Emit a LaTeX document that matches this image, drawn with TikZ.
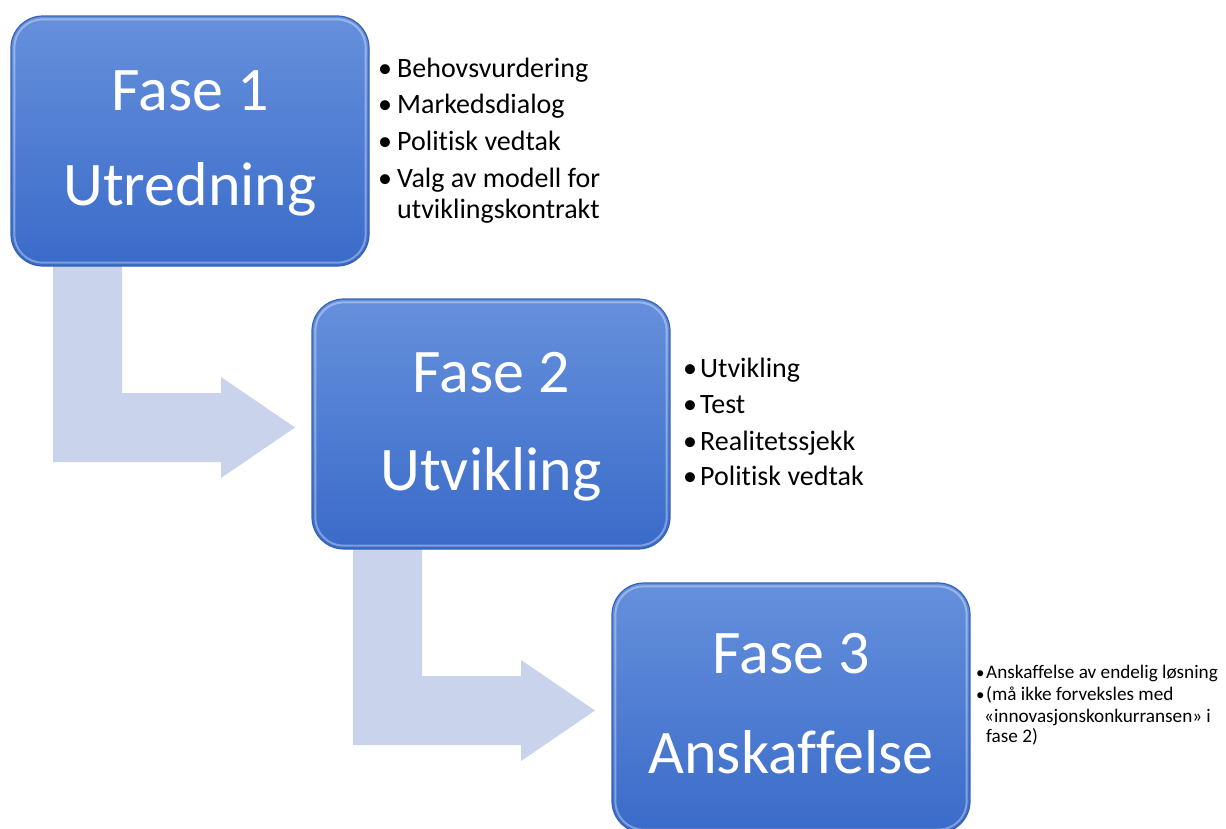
\documentclass[tikz,border=0pt]{standalone}
\usepackage{fontspec}
\setmainfont{Carlito}[Ligatures=NoCommon]
\usetikzlibrary{calc}
\definecolor{arrowfill}{HTML}{C9D3EC}
\definecolor{boxtop}{HTML}{6690DC}
\definecolor{boxbot}{HTML}{3A6BC9}
\definecolor{boxedge}{HTML}{3662B5}
\tikzset{
  phasebox/.style={rectangle, rounded corners=32pt, top color=boxtop, bottom color=boxbot,
    draw=boxedge, line width=1.2pt, minimum width=358pt, minimum height=250pt, inner sep=0pt},
  bevel/.style={draw=white, draw opacity=0.35, line width=2pt, rounded corners=28pt},
  phasetitle/.style={text=white, font=\fontsize{62}{62}\selectfont, anchor=base, inner sep=0pt},
  bigitem/.style={font=\fontsize{28}{32}\selectfont, anchor=base west, inner sep=0pt, text=black},
  smallitem/.style={font=\fontsize{19.2}{21}\selectfont, anchor=base west, inner sep=0pt, text=black},
  smallbullet/.style={font=\fontsize{17}{21}\selectfont, anchor=base west, inner sep=0pt, text=black},
  bentarrow/.style={fill=arrowfill, draw=none}
}
\begin{document}
\begin{tikzpicture}[x=1pt,y=-1pt]
\useasboundingbox (0,0) rectangle (1226,828);
\clip (0,0) rectangle (1226,828);
\fill[white] (0,0) rectangle (1226,828);

% bent arrows
\fill[bentarrow] (53,250) -- (122,250) -- (122,393) -- (221,393) -- (221,377) -- (295,427.5)
  -- (221,478) -- (221,462) -- (53,462) -- cycle;
\fill[bentarrow] (353,533) -- (422,533) -- (422,676) -- (521,676) -- (521,660) -- (595,710.5)
  -- (521,761) -- (521,745) -- (353,745) -- cycle;

% boxes
\node[phasebox] (b1) at (190,141) {};
\draw[bevel] ($(b1.south west)+(4,-4)$) rectangle ($(b1.north east)+(-4,4)$);
\node[phasebox] (b2) at (491,424) {};
\draw[bevel] ($(b2.south west)+(4,-4)$) rectangle ($(b2.north east)+(-4,4)$);
\node[phasebox] (b3) at (791,708) {};
\draw[bevel] ($(b3.south west)+(4,-4)$) rectangle ($(b3.north east)+(-4,4)$);

% titles
\node[phasetitle] (t1a) at (190,110) {Fase 1};
\node[phasetitle] (t1b) at (190,205) {Utredning};
\node[phasetitle] (t2a) at (491,392) {Fase 2};
\node[phasetitle] (t2b) at (491,490) {Utvikling};
\node[phasetitle] (t3a) at (791,673) {Fase 3};
\node[phasetitle] (t3b) at (791,773) {Anskaffelse};

% list 1
\node[bigitem] (p1) at (378,77) {•};
\node[bigitem] (l1) at (397,77) {Behovsvurdering};
\node[bigitem] (p2) at (378,113) {•};
\node[bigitem] (l2) at (397,113) {Markedsdialog};
\node[bigitem] (p3) at (378,150) {•};
\node[bigitem] (l3) at (397,150) {Politisk vedtak};
\node[bigitem] (p4) at (378,187) {•};
\node[bigitem] (l4) at (397,187) {Valg av modell for};
\node[bigitem] (l5) at (397,218) {utviklingskontrakt};

% list 2
\node[bigitem] (q1) at (683,377) {•};
\node[bigitem] (m1) at (700,377) {Utvikling};
\node[bigitem] (q2) at (683,413) {•};
\node[bigitem] (m2) at (700,413) {Test};
\node[bigitem] (q3) at (683,450) {•};
\node[bigitem] (m3) at (700,450) {Realitetssjekk};
\node[bigitem] (q4) at (683,485) {•};
\node[bigitem] (m4) at (700,485) {Politisk vedtak};

% list 3
\node[smallbullet] (r1) at (976,678) {•};
\node[smallitem] (n1) at (986,678) {Anskaffelse av endelig løsning};
\node[smallbullet] (r2) at (976,700) {•};
\node[smallitem] (n2) at (986,700) {(må ikke forveksles med};
\node[smallitem] (n3) at (984,722) {«innovasjonskonkurransen» i};
\node[smallitem] (n4) at (986,742) {fase 2)};
\end{tikzpicture}
\end{document}
